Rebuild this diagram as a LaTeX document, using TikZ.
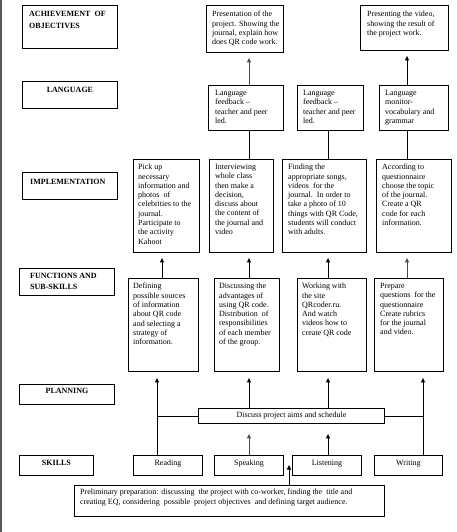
\documentclass[tikz,border=0pt]{standalone}
\usepackage{fontspec}
\setmainfont{Liberation Serif}
\usetikzlibrary{arrows.meta,calc}
\tikzset{
  bx/.style={draw, line width=0.9pt, inner sep=0pt, anchor=north west},
  tx/.style={anchor=north west, inner sep=0pt, align=left, font=\fontsize{8}{9.3}\selectfont},
  ctx/.style={anchor=north, inner sep=0pt, align=center, font=\fontsize{8}{9.3}\selectfont},
  arr/.style={-{Triangle[length=4.5pt,width=4pt]}, line width=0.9pt, shorten >=5pt},
  ln/.style={line width=0.9pt},
}
% name, x1, y1, x2, y2, dx, dy, text
\newcommand\mybox[8]{%
  \node[bx, minimum width={#4pt-#2pt}, minimum height={#5pt-#3pt}] (#1) at (#2,#3) {};
  \node[tx] (#1t) at ([shift={(#6pt,-#7pt)}]#1.north west) {#8};}
% name, x1, y1, x2, y2, dy, text
\newcommand\cbox[7]{%
  \node[bx, minimum width={#4pt-#2pt}, minimum height={#5pt-#3pt}] (#1) at (#2,#3) {};
  \node[ctx] (#1t) at ([shift={(0pt,-#6pt)}]#1.north) {#7};}
\begin{document}
\begin{tikzpicture}[x=1pt,y=-1pt]
\useasboundingbox (0,0) rectangle (456,532);
\draw[gray!70!black, line width=1.5pt] (0.75,0) -- (0.75,532);

% left column
\mybox{ach}{22}{5}{117}{48}{7}{6}{\bfseries ACHIEVEMENT\ \ OF\\[2.7pt]\bfseries OBJECTIVES}
\cbox{lang}{22}{81}{117}{108}{6}{\bfseries LANGUAGE}
\mybox{impl}{22}{172}{117}{199}{8}{7}{\bfseries IMPLEMENTATION}
\mybox{func}{19}{268}{114}{295}{11}{5}{\bfseries FUNCTIONS AND\\[1.7pt]\bfseries SUB-SKILLS}
\cbox{plan}{19}{384}{114}{404}{4}{\bfseries PLANNING}
\cbox{skills}{19}{455}{93}{475}{5}{\bfseries SKILLS}

% achievement
\mybox{pres}{206}{5}{283}{52}{6}{6}{Presentation of the\\project. Showing\ the\\journal, explain how\\does QR code work.}
\mybox{prvid}{360}{5}{448}{50}{7}{6}{Presenting the video,\\showing the result of\\the project work.}

% language
\mybox{lf1}{208}{85}{283}{130}{7}{5}{\fontsize{8}{8.8}\selectfont Language\\feedback --\\teacher and peer\\led.}
\mybox{lf2}{297}{85}{363}{130}{6}{5}{\fontsize{8}{8.8}\selectfont Language\\feedback --\\teacher and peer\\led.}
\mybox{lf3}{379}{85}{448}{130}{6}{5}{\fontsize{8}{8.8}\selectfont Language\\monitor-\\vocabulary and\\grammar}

% implementation
\mybox{pick}{133}{159}{199}{252}{5}{5}{\fontsize{8}{9.6}\selectfont Pick up\\necessary\\information and\\photos\ \ of\\celebrities to the\\journal.\\Participate to\\the activity\\Kahoot}
\mybox{inter}{209}{159}{273}{252}{6}{5}{\fontsize{8}{9.6}\selectfont Interviewing\\whole class\\then make a\\decision,\\discuss about\\the content of\\the journal and\\video}
\mybox{find}{282}{159}{366}{252}{6}{5}{\fontsize{8}{9.6}\selectfont Finding the\\appropriate songs,\\videos\ \ for the\\journal.\ \ In order to\\take a photo of 10\\things with QR Code,\\students will conduct\\with adults.}
\mybox{acc}{376}{159}{451}{252}{6}{5}{\fontsize{8}{9.6}\selectfont According to\\questionnaire\\choose the topic\\of the journal.\\Create a QR\\code for each\\information.}

% functions
\mybox{def}{128}{278}{198}{371}{5}{5}{Defining\\possible sources\\of information\\about QR code\\and selecting a\\strategy of\\information.}
\mybox{disctwo}{214}{278}{279}{371}{5}{5}{Discussing the\\advantages of\\using QR code.\\Distribution\ \ of\\responsibilities\\of each member\\of the group.}
\mybox{work}{297}{278}{366}{371}{5}{5}{Working with\\the site\\QRcoder.ru.\\And watch\\videos how to\\create QR code}
\mybox{prep}{374}{278}{443}{371}{6}{5}{Prepare\\questions\ \ for the\\questionnaire\\Create rubrics\\for the journal\\and video.}

% planning
\cbox{disc}{198}{408}{384}{423}{4}{Discuss project aims and schedule}

% skills
\cbox{reading}{133}{455}{202}{475}{5}{Reading}
\cbox{speaking}{214}{455}{283}{475}{5}{Speaking}
\cbox{listening}{292}{455}{361}{475}{5}{Listening}
\cbox{writing}{374}{455}{442}{475}{5}{Writing}

% preliminary
\mybox{prel}{74}{485}{384}{516}{6}{4}{\fontsize{8}{10}\selectfont Preliminary preparation: discussing\ \ the project with co-worker, finding the\ \ title and\\creating EQ, considering\ \ possible\ \ project objectives\ \ and defining target audience.}

% column coordinates
\coordinate (cR) at (157,0);
\coordinate (cA) at (162,0);
\coordinate (cB) at (249,0);
\coordinate (cC) at (328,0);
\coordinate (cD) at (407,0);
\coordinate (cW) at (423,0);
\coordinate (cP) at (289,0);
\coordinate (cPt) at (289,465);

% skills -> functions / planning
\draw[arr, shorten >=6pt] (reading.north -| cR) -- (def.south -| cR);
\draw[ln] (disc.west) -- (disc.west -| cR);
\draw[arr, shorten >=6pt] (writing.north -| cW) -- (prep.south -| cW);
\draw[ln] (disc.east) -- (disc.east -| cW);
\draw[arr, shorten >=6pt] (disc.north -| cB) -- (disctwo.south -| cB);
\draw[arr, shorten >=6pt] (disc.north -| cC) -- (work.south -| cC);
\draw[arr, gray!60!black, shorten >=10pt] (speaking.north -| cB) -- (disc.south -| cB);
\draw[arr, shorten >=10pt] (listening.north -| cC) -- (disc.south -| cC);
\draw[arr, shorten >=0pt] (prel.north -| cP) -- (cPt);

% functions -> implementation
\draw[arr] (def.north -| cA) -- (pick.south -| cA);
\draw[arr] (disctwo.north -| cB) -- (inter.south -| cB);
\draw[arr] (work.north -| cC) -- (find.south -| cC);
\draw[arr, gray!60!black] (prep.north -| cD) -- (acc.south -| cD);

% implementation -> language
\draw[ln] (inter.north -| cB) -- (lf1.south -| cB);
\draw[ln] (find.north -| cC) -- (lf2.south -| cC);
\draw[ln] (acc.north -| cD) -- (lf3.south -| cD);

% language -> achievement
\draw[arr, gray!60!black] (lf1.north -| cB) -- (pres.south -| cB);
\draw[arr] (lf3.north -| cD) -- (prvid.south -| cD);
\end{tikzpicture}
\end{document}
